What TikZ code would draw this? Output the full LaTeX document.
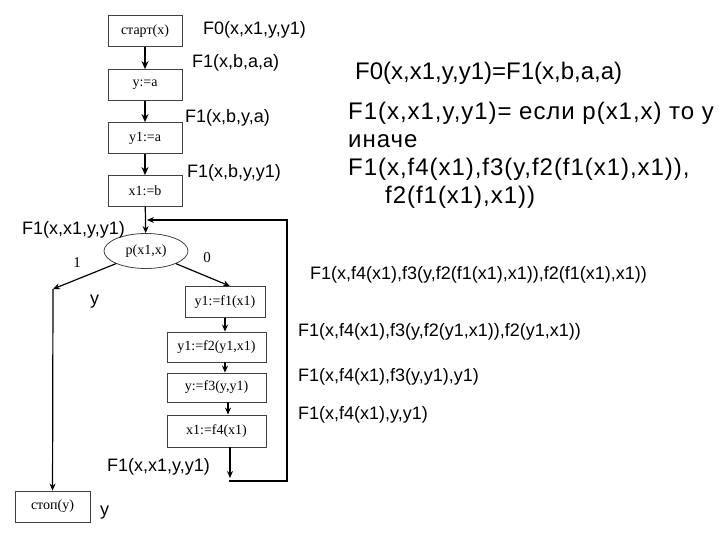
\documentclass[tikz,border=0pt]{standalone}
\usepackage{fontspec}
\setmainfont{Liberation Sans}
\newfontfamily\tnr{Liberation Serif}
\newfontfamily\wide[LetterSpace=4]{Liberation Sans}
\usetikzlibrary{arrows.meta,shapes.geometric}
\tikzset{
  blk/.style={draw=black!75,line width=.8bp,minimum height=31bp,inner sep=2bp,
    font=\tnr\fontsize{14bp}{16bp}\selectfont},
  lbl/.style={anchor=west,inner sep=0pt,font=\fontsize{18bp}{21bp}\selectfont},
  big/.style={inner sep=0pt,font=\fontsize{24bp}{27bp}\selectfont},
  num/.style={inner sep=0pt,font=\tnr\fontsize{15bp}{17bp}\selectfont},
  ar/.style={-{Stealth[length=7bp,width=6bp]},line width=1.2bp},
  tar/.style={-{Stealth[length=8bp,width=7bp]},line width=2bp},
}
\begin{document}
\begin{tikzpicture}[x=1bp,y=-1bp]
\useasboundingbox (0,0) rectangle (720,540);
% blocks
\node[blk,minimum width=74bp] (start) at (145,31) {старт(x)};
\node[blk,minimum width=74bp] (ya) at (145,85) {y:=a};
\node[blk,minimum width=74bp] (y1a) at (145,138) {y1:=a};
\node[blk,minimum width=74bp] (x1b) at (145,191) {x1:=b};
\node[ellipse,draw=black!75,line width=.8bp,minimum width=84bp,minimum height=35bp,inner sep=0pt,
  font=\tnr\fontsize{14bp}{16bp}\selectfont] (cond) at (146,251) {p(x1,x)};
\node[blk,minimum width=80bp] (f1) at (225,302) {y1:=f1(x1)};
\node[blk,minimum width=99bp,minimum height=30bp] (f2) at (216.5,347) {y1:=f2(y1,x1)};
\node[blk,minimum width=99bp,minimum height=29bp] (f3) at (216.5,387.5) {y:=f3(y,y1)};
\node[blk,minimum width=99bp,minimum height=32bp] (f4) at (216.5,431) {x1:=f4(x1)};
\node[blk,minimum width=75bp] (stop) at (52.5,506.5) {стоп(y)};
% connectors
\draw[tar] (start) -- (ya);
\draw[tar] (ya) -- (y1a);
\draw[tar] (y1a) -- (x1b);
\draw[ar] (x1b) -- (cond);
\coordinate (lc) at (53,289);
\draw[ar] (cond.south west) -- (lc);
\draw[ar] (lc) -- (stop);
\draw[ar] (cond.south east) -- ([xshift=5bp]f1.north);
\draw[ar] (f1.south) -- (f1.south |- f2.north);
\draw[ar] ([xshift=8.5bp]f2.south) -- ([xshift=8.5bp]f2.south |- f3.north);
\draw[ar] ([xshift=11.5bp]f3.south) -- ([xshift=11.5bp]f3.south |- f4.north);
\coordinate (back) at (230,478);
\coordinate (rb) at (229,481);
\coordinate (ru) at (287,220);
\coordinate (loopin) at (147,220);
\draw[ar] (back |- f4.south) -- (back);
\draw[ar] (rb) -| (ru) -- (loopin);
% labels
\node[lbl] (l0) at (203,30) {F0(x,x1,y,y1)};
\node[lbl] (l1) at (192,63) {F1(x,b,a,a)};
\node[lbl] (l2) at (185,118) {F1(x,b,y,a)};
\node[lbl] (l3) at (187,173) {F1(x,b,y,y1)};
\node[lbl] (l4) at (22,230) {F1(x,x1,y,y1)};
\node[num] (one) at (77,263) {1};
\node[num] (zero) at (207,258) {0};
\node[lbl] (ly) at (90,302) {y};
\node[lbl] (l5) at (107,467) {F1(x,x1,y,y1)};
\node[lbl] (lyy) at (100,513) {y};
% equations
\node[big,anchor=west] (eq0) at (355,73) {F0(x,x1,y,y1)=F1(x,b,a,a)};
\node[big,anchor=north west,align=left,font=\wide\fontsize{24bp}{28bp}\selectfont] (eq1) at (348,102)
  {F1(x,x1,y,y1)= если p(x1,x) то y\\иначе\\F1(x,f4(x1),f3(y,f2(f1(x1),x1)),\\\hspace*{37bp}f2(f1(x1),x1))};
\node[lbl] (s1) at (310,275) {F1(x,f4(x1),f3(y,f2(f1(x1),x1)),f2(f1(x1),x1))};
\node[lbl] (s2) at (298,332) {F1(x,f4(x1),f3(y,f2(y1,x1)),f2(y1,x1))};
\node[lbl] (s3) at (298,377) {F1(x,f4(x1),f3(y,y1),y1)};
\node[lbl] (s4) at (298,415) {F1(x,f4(x1),y,y1)};
\end{tikzpicture}
\end{document}
